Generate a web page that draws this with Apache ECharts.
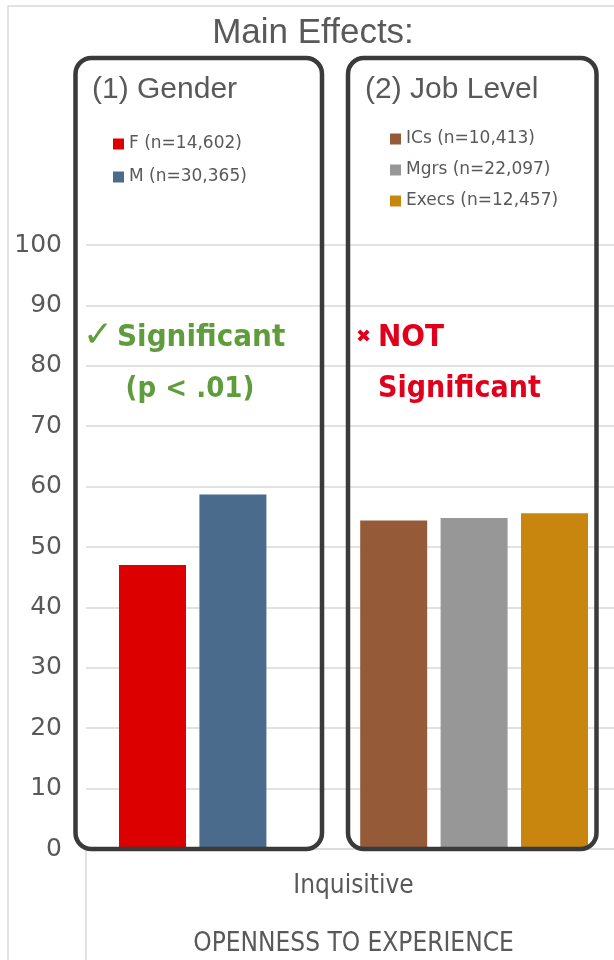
<!DOCTYPE html>
<html>
<head>
<meta charset="utf-8">
<script src="https://cdn.jsdelivr.net/npm/echarts@6/dist/echarts.min.js"></script>
<style>
  html, body { margin: 0; padding: 0; background: #ffffff; }
  #chart { width: 614px; height: 960px; }
</style>
</head>
<body>
<div id="chart"></div>
<script>
// Openness to experience — "Inquisitive" scale, main effects of gender and job level
const categories = ['Inquisitive'];
const axisTitle = 'OPENNESS TO EXPERIENCE';
const yTicks = [0, 10, 20, 30, 40, 50, 60, 70, 80, 90, 100];

const genderNames = ['F (n=14,602)', 'M (n=30,365)'];
const genderValues = [[47.0], [58.7]];
const genderColors = ['#dc0000', '#4a6b8c'];

const levelNames = ['ICs (n=10,413)', 'Mgrs (n=22,097)', 'Execs (n=12,457)'];
const levelValues = [[54.4], [54.8], [55.6]];
const levelColors = ['#955a38', '#979797', '#c8860f'];

const GRAY = '#595959';
const COND = '"DejaVu Sans Condensed", sans-serif';
const WIDE = '"DejaVu Sans", sans-serif';

const chart = echarts.init(document.getElementById('chart'), null, { renderer: 'canvas' });

const series = [];
genderNames.forEach((n, i) => series.push({
  name: n, type: 'bar', data: genderValues[i], barWidth: 67, barGap: '20%',
  itemStyle: { color: genderColors[i] }, silent: true
}));
// empty slot separating the two groups
series.push({ name: 'gap', type: 'bar', data: [null], barWidth: 67, barGap: '20%' });
levelNames.forEach((n, i) => series.push({
  name: n, type: 'bar', data: levelValues[i], barWidth: 67, barGap: '20%',
  itemStyle: { color: levelColors[i] }, silent: true
}));

const legendBase = {
  orient: 'vertical', icon: 'rect', itemWidth: 11, itemHeight: 11,
  selectedMode: false, padding: 0,
  textStyle: { color: GRAY, fontSize: 17, fontFamily: WIDE, lineHeight: 17 }
};

function box(x, y, w, h) {
  return {
    type: 'rect', z: 10,
    shape: { x: x, y: y, width: w, height: h, r: 16 },
    style: { fill: 'none', stroke: '#3a3a3a', lineWidth: 4.5 }
  };
}
function txt(x, y, s, size, color, opts) {
  return {
    type: 'text', z: 11, x: x, y: y,
    style: Object.assign({
      text: s, fill: color, fontSize: size,
      fontFamily: '"Liberation Sans", Arial, sans-serif',
      textVerticalAlign: 'middle', textAlign: 'left'
    }, opts || {})
  };
}

chart.setOption({
  animation: false,
  grid: { left: 86, width: 535, top: 245, bottom: 111, containLabel: false, outerBoundsMode: 'none' },
  legend: [
    Object.assign({}, legendBase, { data: genderNames, left: 113, top: 135.5, itemGap: 16 }),
    Object.assign({}, legendBase, { data: levelNames, left: 390, top: 130.5, itemGap: 14 })
  ],
  xAxis: {
    type: 'category', data: categories,
    axisLine: { lineStyle: { color: '#d9d9d9', width: 1.5 } },
    axisTick: { show: true, length: 111, alignWithLabel: false, lineStyle: { color: '#d9d9d9', width: 1.5 } },
    axisLabel: { color: GRAY, fontSize: 26, fontFamily: COND, margin: 24 },
    name: axisTitle, nameLocation: 'middle', nameGap: 82,
    nameTextStyle: { color: GRAY, fontSize: 26, fontFamily: COND }
  },
  yAxis: {
    type: 'value', min: yTicks[0], max: yTicks[yTicks.length - 1], interval: 10,
    axisLine: { show: false }, axisTick: { show: false },
    splitLine: { lineStyle: { color: '#d9d9d9', width: 1.5 } },
    axisLabel: { color: GRAY, fontSize: 25, fontFamily: WIDE, margin: 24 }
  },
  series: series,
  graphic: [
    // outer chart-area border
    { type: 'rect', z: 1, shape: { x: 8, y: 6, width: 800, height: 1000 },
      style: { fill: 'none', stroke: '#d9d9d9', lineWidth: 1.5 } },
    txt(313, 33, 'Main Effects:', 35, GRAY, { textAlign: 'center' }),
    box(75.5, 58, 246.5, 791),
    box(348, 58, 248.5, 791),
    txt(92, 90, '(1) Gender', 30, GRAY),
    txt(365, 90, '(2) Job Level', 30, GRAY),
    txt(83, 337, '✓', 36, '#5e9c3c', { fontFamily: WIDE }),
    txt(117, 338, 'Significant', 31, '#5e9c3c', { fontFamily: COND, fontWeight: 'bold' }),
    txt(190, 389, '(p < .01)', 29, '#5e9c3c', { fontFamily: COND, fontWeight: 'bold', textAlign: 'center' }),
    txt(356, 337, '✖', 18, '#e0001b', { fontFamily: WIDE }),
    txt(378, 338, 'NOT', 31, '#e0001b', { fontFamily: COND, fontWeight: 'bold' }),
    txt(378, 389, 'Significant', 30, '#e0001b', { fontFamily: COND, fontWeight: 'bold' })
  ]
});
</script>
</body>
</html>
